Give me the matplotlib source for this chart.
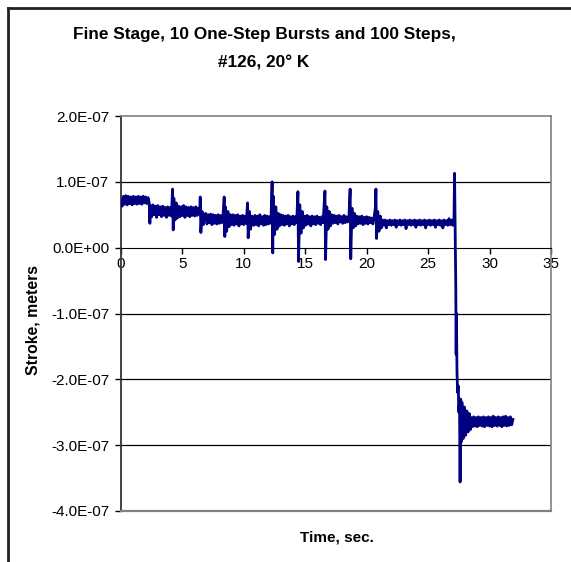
import numpy as np
import matplotlib
matplotlib.use("Agg")
import matplotlib.pyplot as plt
from matplotlib.ticker import FuncFormatter
from matplotlib.lines import Line2D

plt.rcParams['font.family'] = ['Liberation Sans', 'DejaVu Sans']

# trace: (time in s, stroke in units of 1e-7 m)
trace_points = [
    # settled level before the first burst
    (0.0, 0.72), (0.1, 0.63), (0.2, 0.78), (0.3, 0.66), (0.4, 0.79), (0.5, 0.65), (0.6, 0.78),
    (0.7, 0.67), (0.8, 0.77), (0.9, 0.65), (1.0, 0.78), (1.1, 0.67), (1.2, 0.77), (1.3, 0.66),
    (1.4, 0.78), (1.5, 0.67), (1.6, 0.77), (1.7, 0.66), (1.8, 0.78), (1.9, 0.68), (2.0, 0.77),
    (2.1, 0.67), (2.2, 0.76), (2.3, 0.68), (2.35, 0.37), (2.4, 0.64),
    (2.5, 0.47), (2.6, 0.65), (2.7, 0.50), (2.8, 0.63), (2.9, 0.46), (3.0, 0.64), (3.1, 0.50),
    (3.2, 0.62), (3.3, 0.47), (3.4, 0.63), (3.5, 0.49), (3.6, 0.61), (3.7, 0.46), (3.8, 0.62),
    (3.9, 0.49), (4.0, 0.61), (4.1, 0.48),
    (4.2, 0.89), (4.25, 0.27), (4.3, 0.75), (4.4, 0.42), (4.5, 0.68), (4.6, 0.45), (4.7, 0.63),
    (4.8, 0.47), (4.9, 0.62), (5.0, 0.49), (5.1, 0.64), (5.2, 0.46), (5.3, 0.62), (5.4, 0.49),
    (5.5, 0.61), (5.6, 0.47), (5.7, 0.62), (5.8, 0.49), (5.9, 0.61), (6.0, 0.48), (6.1, 0.62),
    (6.2, 0.49), (6.3, 0.60), (6.4, 0.51),
    (6.45, 0.77), (6.5, 0.23), (6.6, 0.55), (6.7, 0.35), (6.8, 0.50),
    (6.9, 0.52), (7.0, 0.36), (7.1, 0.50), (7.2, 0.38), (7.3, 0.51), (7.4, 0.35), (7.5, 0.50),
    (7.6, 0.37), (7.7, 0.49), (7.8, 0.36), (7.9, 0.50), (8.0, 0.37), (8.1, 0.49), (8.2, 0.38),
    (8.3, 0.48),
    (8.4, 0.77), (8.45, 0.17), (8.5, 0.62), (8.6, 0.25), (8.7, 0.55), (8.8, 0.32), (8.9, 0.50),
    (9.0, 0.35), (9.1, 0.50), (9.2, 0.34), (9.3, 0.49), (9.4, 0.36), (9.5, 0.50), (9.6, 0.33),
    (9.7, 0.48), (9.8, 0.36), (9.9, 0.49), (10.0, 0.35), (10.1, 0.48), (10.2, 0.37),
    (10.3, 0.68), (10.35, 0.15), (10.45, 0.55), (10.55, 0.28), (10.65, 0.48),
    (10.8, 0.34), (10.9, 0.49), (11.0, 0.35), (11.1, 0.48), (11.2, 0.33), (11.3, 0.50),
    (11.4, 0.36), (11.5, 0.47), (11.6, 0.34), (11.7, 0.49), (11.8, 0.35), (11.9, 0.48),
    (12.0, 0.36), (12.1, 0.47), (12.2, 0.37),
    (12.3, 1.00), (12.35, -0.08), (12.4, 0.78), (12.5, 0.20), (12.6, 0.62), (12.7, 0.28),
    (12.8, 0.52),
    (12.9, 0.33), (13.0, 0.50), (13.1, 0.35), (13.2, 0.49), (13.3, 0.34), (13.4, 0.48),
    (13.5, 0.36), (13.6, 0.49), (13.7, 0.33), (13.8, 0.47), (13.9, 0.36), (14.0, 0.48),
    (14.1, 0.35), (14.2, 0.47), (14.3, 0.38),
    (14.4, 0.85), (14.45, -0.21), (14.55, 0.65), (14.65, 0.22), (14.75, 0.55), (14.85, 0.30),
    (14.95, 0.48), (15.05, 0.34), (15.15, 0.49), (15.25, 0.36), (15.35, 0.47), (15.45, 0.33),
    (15.55, 0.48), (15.65, 0.36), (15.75, 0.47), (15.85, 0.35), (15.95, 0.48), (16.05, 0.37),
    (16.15, 0.46), (16.25, 0.35), (16.35, 0.47), (16.45, 0.38),
    (16.6, 0.86), (16.65, -0.18), (16.75, 0.62), (16.85, 0.28), (16.95, 0.55), (17.05, 0.33),
    (17.15, 0.50), (17.25, 0.37), (17.35, 0.49), (17.45, 0.38), (17.55, 0.48), (17.65, 0.36),
    (17.75, 0.49), (17.85, 0.39), (17.95, 0.47), (18.05, 0.37), (18.15, 0.49), (18.25, 0.38),
    (18.35, 0.47), (18.45, 0.39), (18.55, 0.46),
    (18.65, 0.89), (18.7, -0.17), (18.8, 0.60), (18.9, 0.30), (19.0, 0.52), (19.1, 0.33),
    (19.2, 0.48), (19.3, 0.36), (19.4, 0.47), (19.5, 0.37), (19.6, 0.48), (19.7, 0.35),
    (19.8, 0.46), (19.9, 0.37), (20.0, 0.47), (20.1, 0.36), (20.2, 0.46), (20.3, 0.38),
    (20.4, 0.45), (20.5, 0.36), (20.6, 0.46),
    (20.7, 0.60), (20.75, 0.89), (20.8, 0.14), (20.9, 0.55), (21.0, 0.25), (21.1, 0.48),
    (21.2, 0.30),
    # quiet stretch after the tenth burst
    (21.3, 0.42), (21.4, 0.34), (21.5, 0.42), (21.6, 0.30), (21.7, 0.41), (21.8, 0.35),
    (21.9, 0.42), (22.0, 0.34), (22.1, 0.41), (22.2, 0.35), (22.3, 0.42), (22.4, 0.31),
    (22.5, 0.41), (22.6, 0.35), (22.7, 0.42), (22.8, 0.34), (22.9, 0.41), (23.0, 0.35),
    (23.1, 0.42), (23.2, 0.29), (23.3, 0.41), (23.4, 0.35), (23.5, 0.42), (23.6, 0.34),
    (23.7, 0.41), (23.8, 0.35), (23.9, 0.42), (24.0, 0.31), (24.1, 0.41), (24.2, 0.35),
    (24.3, 0.42), (24.4, 0.34), (24.5, 0.41), (24.6, 0.35), (24.7, 0.42), (24.8, 0.30),
    (24.9, 0.41), (25.0, 0.35), (25.1, 0.42), (25.2, 0.34), (25.3, 0.41), (25.4, 0.35),
    (25.5, 0.42), (25.6, 0.31), (25.7, 0.41), (25.8, 0.35), (25.9, 0.42), (26.0, 0.34),
    (26.1, 0.41), (26.2, 0.30), (26.3, 0.42), (26.4, 0.35), (26.5, 0.41), (26.6, 0.34),
    (26.7, 0.44), (26.8, 0.35), (26.9, 0.42), (27.0, 0.34),
    # 100 steps
    (27.1, 0.38), (27.15, 1.13), (27.2, 0.20), (27.25, -0.60), (27.28, -1.62), (27.3, -1.00),
    (27.35, -1.90), (27.4, -2.20), (27.45, -2.10), (27.5, -2.50), (27.55, -2.30), (27.6, -3.56),
    (27.65, -2.30), (27.7, -2.95), (27.75, -2.35), (27.85, -2.90), (27.95, -2.42), (28.05, -2.85),
    (28.15, -2.48), (28.25, -2.80), (28.35, -2.52), (28.45, -2.76),
    (28.5, -2.58), (28.6, -2.72), (28.7, -2.57), (28.8, -2.71), (28.9, -2.58), (29.0, -2.72),
    (29.1, -2.57), (29.2, -2.70), (29.3, -2.58), (29.4, -2.71), (29.5, -2.57), (29.6, -2.72),
    (29.7, -2.58), (29.8, -2.70), (29.9, -2.57), (30.0, -2.71), (30.1, -2.58), (30.2, -2.72),
    (30.3, -2.56), (30.4, -2.70), (30.5, -2.58), (30.6, -2.71), (30.7, -2.57), (30.8, -2.70),
    (30.9, -2.58), (31.0, -2.72), (31.1, -2.57), (31.2, -2.70), (31.3, -2.56), (31.4, -2.71),
    (31.5, -2.58), (31.6, -2.70), (31.7, -2.57), (31.8, -2.69), (31.9, -2.61),
]

x_ticks = [0, 5, 10, 15, 20, 25, 30, 35]
y_ticks = [2e-7, 1e-7, 0.0, -1e-7, -2e-7, -3e-7, -4e-7]
grid_levels = [1e-7, -1e-7, -2e-7, -3e-7]

title_1 = "Fine Stage, 10 One-Step Bursts and 100 Steps,"
title_2 = "#126, 20\u00b0 K"

time_s = [p[0] for p in trace_points]
stroke = np.array([p[1] for p in trace_points]) * 1e-7

W, H = 571, 562
fig = plt.figure(figsize=(W / 100, H / 100), dpi=100)
ax = fig.add_axes([121 / W, 1 - 511 / H, (551 - 121) / W, (511 - 116) / H])

for lv in grid_levels:
    ax.axhline(lv, color='black', lw=0.9, zorder=1)

ax.plot(time_s, stroke, color='#000080', lw=2.0, zorder=3)

ax.set_xlim(0, 35)
ax.set_ylim(-4e-7, 2e-7)
ax.set_xticks(x_ticks)
ax.set_yticks(y_ticks)
ax.yaxis.set_major_formatter(FuncFormatter(lambda v, p: f"{v:.1E}"))

# x axis crosses at zero like the Excel chart
ax.spines['bottom'].set_position(('data', 0))
ax.spines['bottom'].set_color('black')
ax.spines['left'].set_color('#333333')
ax.spines['left'].set_linewidth(1.3)
for s in ['top', 'right']:
    ax.spines[s].set_color('#808080')
    ax.spines[s].set_linewidth(1.2)
ax.axhline(-4e-7, color='#808080', lw=1.6, clip_on=False, zorder=4)

ax.tick_params(axis='y', direction='out', length=4, width=1, labelsize=11, pad=4.5)
ax.tick_params(axis='x', direction='out', length=4, width=1, labelsize=11, pad=3)

fig.text(264 / W, 1 - 35 / H, title_1, ha='center', va='center', fontsize=12.4, fontweight='bold')
fig.text(264 / W, 1 - 63 / H, title_2, ha='center', va='center', fontsize=12.4, fontweight='bold')
fig.text(33 / W, 1 - 320 / H, "Stroke, meters", rotation=90, ha='center', va='center',
         fontsize=11.3, fontweight='bold')
fig.text(337 / W, 1 - 538 / H, "Time, sec.", ha='center', va='center', fontsize=11, fontweight='bold')

# chart area border (only top and left fall inside the image)
fig.add_artist(Line2D([8 / W, 8 / W], [0, 1 - 8 / H], color='#222222', lw=2))
fig.add_artist(Line2D([8 / W, 1], [1 - 8 / H, 1 - 8 / H], color='#222222', lw=2))

fig.savefig("out.png", dpi=100)
